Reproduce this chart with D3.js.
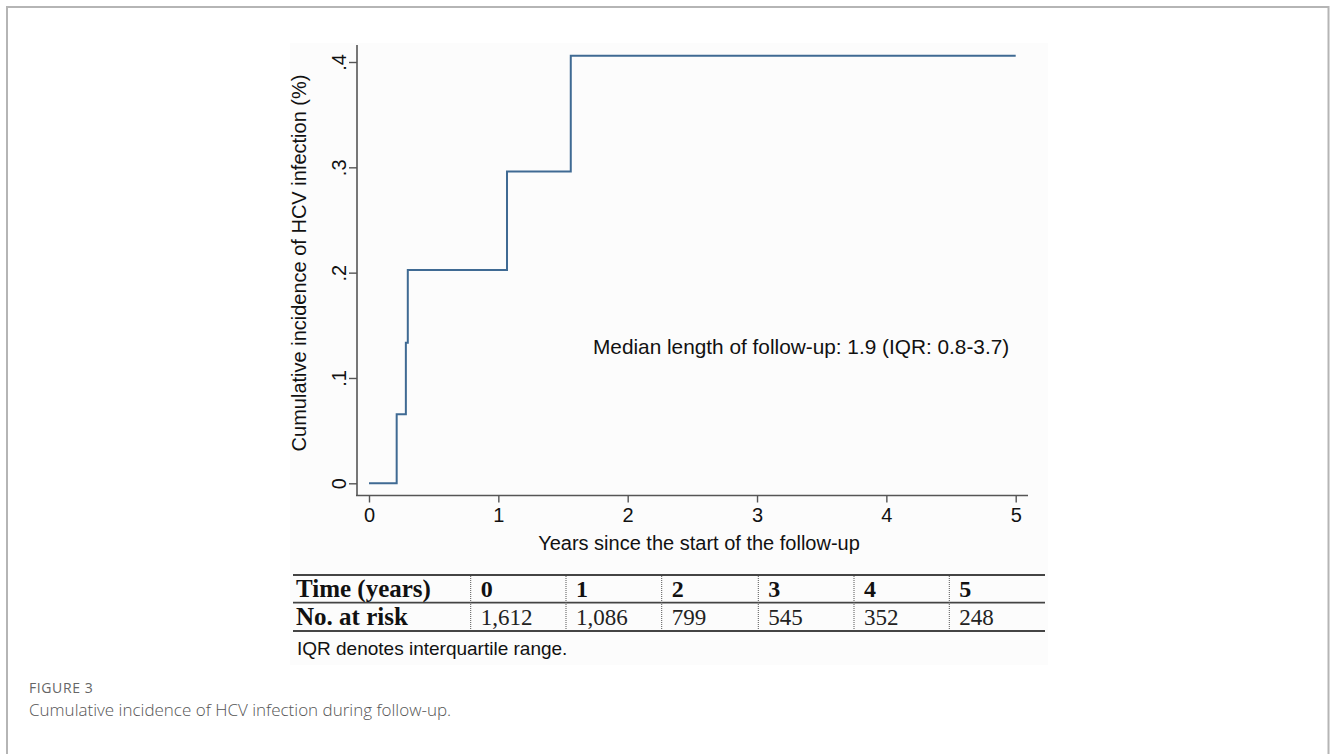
<!DOCTYPE html>
<html>
<head>
<meta charset="utf-8">
<script src="https://cdn.jsdelivr.net/npm/d3@7"></script>
<style>
  body { margin: 0; background: #fff; }
  svg { display: block; }
</style>
</head>
<body>
<div id="chart"></div>
<script>
// data
var stepTimes  = [0, 0.214, 0.285, 0.300, 1.067, 1.560, 5.0]
var stepValues = [0, 0.0655, 0.1335, 0.2025, 0.296, 0.406, 0.406]
var xTicks = [0, 1, 2, 3, 4, 5]
var yTicks = [0, 0.1, 0.2, 0.3, 0.4]
var yTickLabels = ['0', '.1', '.2', '.3', '.4']
var tableYears = ['0', '1', '2', '3', '4', '5']
var atRisk = ['1,612', '1,086', '799', '545', '352', '248']

var W = 1330, H = 754
var sans = 'Liberation Sans, Arial, sans-serif'
var serif = 'Liberation Serif, Times New Roman, serif'

var svg = d3.select('#chart').append('svg')
    .attr('width', W)
    .attr('height', H)

// page frame
svg.append('path')
    .attr('d', 'M7,754 V7 H1328.5 V754')
    .attr('fill', 'none')
    .attr('stroke', '#b5b5b5')
    .attr('stroke-width', 2)

// image area
svg.append('rect')
    .attr('x', 290).attr('y', 43)
    .attr('width', 758).attr('height', 622)
    .attr('fill', '#fcfcfc')

// scales
var x = d3.scaleLinear().domain([0, 5]).range([369, 1015.7])
var y = d3.scaleLinear().domain([0, 0.4]).range([483.3, 62])

var axisColor = '#555'

// y axis
var yAxis = svg.append('g')
    .attr('transform', 'translate(357,0)')
    .call(d3.axisLeft(y).tickValues(yTicks).tickSize(8).tickFormat((d, i) => yTickLabels[i]))
    .attr('font-family', sans)
    .attr('font-size', 20)
yAxis.select('.domain').remove()
yAxis.append('line')
    .attr('x1', 0).attr('x2', 0).attr('y1', 45).attr('y2', 495.5)
    .attr('stroke', axisColor).attr('stroke-width', 1.6)
yAxis.selectAll('.tick line').attr('stroke', axisColor).attr('stroke-width', 1.4)
yAxis.selectAll('.tick text')
    .attr('fill', '#111')
    .attr('text-anchor', 'middle')
    .attr('transform', 'translate(-18,0) rotate(-90)')
    .attr('x', 0).attr('dy', '0.35em')

// x axis
var xAxis = svg.append('g')
    .attr('transform', 'translate(0,495.5)')
    .call(d3.axisBottom(x).tickValues(xTicks).tickSize(7).tickFormat(d3.format('d')))
    .attr('font-family', sans)
    .attr('font-size', 20)
xAxis.select('.domain').remove()
xAxis.append('line')
    .attr('x1', 356).attr('x2', 1028).attr('y1', 0).attr('y2', 0)
    .attr('stroke', axisColor).attr('stroke-width', 1.6)
xAxis.selectAll('.tick line').attr('stroke', axisColor).attr('stroke-width', 1.4)
xAxis.selectAll('.tick text')
    .attr('fill', '#111')
    .attr('y', 12)

// axis titles
svg.append('text')
    .attr('transform', 'translate(306,263) rotate(-90)')
    .attr('text-anchor', 'middle')
    .attr('font-family', sans)
    .attr('font-size', 20)
    .attr('fill', '#111')
    .text('Cumulative incidence of HCV infection  (%)')

svg.append('text')
    .attr('x', 699).attr('y', 550)
    .attr('text-anchor', 'middle')
    .attr('font-family', sans)
    .attr('font-size', 20)
    .attr('fill', '#111')
    .text('Years since the start of the follow-up')

// step curve
var pts = stepTimes.map((t, i) => [t, stepValues[i]])
var line = d3.line()
    .x(d => x(d[0]))
    .y(d => y(d[1]))
    .curve(d3.curveStepAfter)
svg.append('path')
    .datum(pts)
    .attr('d', line)
    .attr('fill', 'none')
    .attr('stroke', '#3f6a93')
    .attr('stroke-width', 2)

// annotation
svg.append('text')
    .attr('x', 593).attr('y', 354)
    .attr('font-family', sans)
    .attr('font-size', 20.8)
    .attr('fill', '#111')
    .text('Median length of follow-up: 1.9 (IQR: 0.8-3.7)')

// number at risk table
var tLeft = 293, tRight = 1045
var colEdges = [293, 470.7, 566, 661.7, 758.3, 854, 949.3, 1045]
var rowLines = [575, 602.7, 631]

rowLines.forEach(yy => {
  svg.append('line')
    .attr('x1', tLeft).attr('x2', tRight).attr('y1', yy).attr('y2', yy)
    .attr('stroke', '#444').attr('stroke-width', 1.8)
})
colEdges.slice(1, -1).forEach(xx => {
  svg.append('line')
    .attr('x1', xx).attr('x2', xx).attr('y1', 576).attr('y2', 630)
    .attr('stroke', '#555').attr('stroke-width', 1)
    .attr('stroke-dasharray', '1,1')
})

svg.append('text')
    .attr('x', 296).attr('y', 597)
    .attr('font-family', serif).attr('font-size', 25).attr('font-weight', 'bold')
    .attr('fill', '#111')
    .text('Time (years)')
svg.append('text')
    .attr('x', 296).attr('y', 625)
    .attr('font-family', serif).attr('font-size', 25).attr('font-weight', 'bold')
    .attr('fill', '#111')
    .text('No. at risk')

svg.selectAll('.yr')
    .data(tableYears)
    .enter().append('text')
    .attr('class', 'yr')
    .attr('x', (d, i) => colEdges[i + 1] + 10)
    .attr('y', 597)
    .attr('font-family', serif).attr('font-size', 24).attr('font-weight', 'bold')
    .attr('fill', '#111')
    .text(d => d)

svg.selectAll('.risk')
    .data(atRisk)
    .enter().append('text')
    .attr('class', 'risk')
    .attr('x', (d, i) => colEdges[i + 1] + 10)
    .attr('y', 625)
    .attr('font-family', serif).attr('font-size', 23)
    .attr('fill', '#222')
    .text(d => d)

svg.append('text')
    .attr('x', 297).attr('y', 655)
    .attr('font-family', sans)
    .attr('font-size', 19)
    .attr('fill', '#111')
    .text('IQR denotes interquartile range.')

// caption
svg.append('text')
    .attr('x', 29).attr('y', 693)
    .attr('font-family', 'Open Sans, sans-serif')
    .attr('font-size', 14)
    .attr('letter-spacing', 0.6)
    .attr('fill', '#666')
    .text('FIGURE 3')
svg.append('text')
    .attr('x', 29).attr('y', 716)
    .attr('font-family', 'Open Sans, sans-serif')
    .attr('font-size', 17)
    .attr('font-weight', 300)
    .attr('fill', '#555')
    .text('Cumulative incidence of HCV infection during follow-up.')
</script>
</body>
</html>
